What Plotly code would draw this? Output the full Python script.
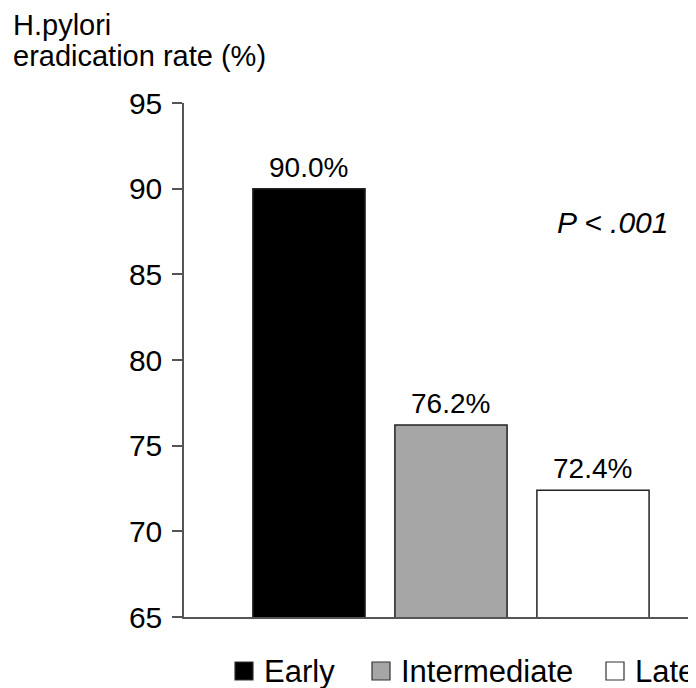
import plotly.graph_objects as go

categories = ["Early", "Intermediate", "Late"]
rates = [90.0, 76.2, 72.4]
bar_colors = ["#000000", "#a6a6a6", "#ffffff"]
y_ticks = [65, 70, 75, 80, 85, 90, 95]
y_title_lines = ["H.pylori", "eradication rate (%)"]
p_text = "<i>P &lt; .001</i>"

FONT = "Liberation Sans, Arial, sans-serif"
OFF = 8  # default page body margin
W, H = 696 - OFF, 688 - OFF
L, R, T, B = 184 - OFF, 8, 103 - OFF, 71
PW, PH = W - L - R, H - T - B
PLOT_L, PLOT_B = 184, 617  # plot area edges in window pixels


def px_x(p):
    return (p - PLOT_L) / PW


def px_y(p):
    return (PLOT_B - p) / PH


fig = go.Figure()
fig.add_trace(go.Bar(
    x=categories, y=rates, width=0.79,
    marker=dict(color=bar_colors, line=dict(color="#222222", width=1.5)),
    showlegend=False, hoverinfo="skip",
))

for c, v in zip(categories, rates):
    fig.add_annotation(x=c, y=v, text=f"{v:.1f}%", showarrow=False,
                       xanchor="center", yanchor="bottom", yshift=4,
                       font=dict(family=FONT, size=28, color="black"))

fig.add_annotation(xref="paper", yref="paper", x=px_x(612), y=px_y(223),
                   text=p_text, showarrow=False, xanchor="center", yanchor="middle",
                   font=dict(family=FONT, size=30, color="black"))

for line, top in zip(y_title_lines, [7, 38]):
    fig.add_annotation(xref="paper", yref="paper", x=px_x(11), y=px_y(top),
                       text=line, showarrow=False, xanchor="left", yanchor="top",
                       align="left", font=dict(family=FONT, size=29, color="black"))

# manual legend
leg_sq_cx = [244, 381, 615]
leg_txt_x = [262, 399, 633]
leg_cy = 671
for c, col, cx, tx in zip(categories, bar_colors, leg_sq_cx, leg_txt_x):
    fig.add_shape(type="rect", xref="paper", yref="paper",
                  x0=px_x(cx - 9), x1=px_x(cx + 9), y0=px_y(leg_cy + 9), y1=px_y(leg_cy - 9),
                  fillcolor=col, line=dict(color="#333333", width=1.2))
    fig.add_annotation(xref="paper", yref="paper", x=px_x(tx), y=px_y(leg_cy),
                       text=c, showarrow=False, xanchor="left", yanchor="middle",
                       font=dict(family=FONT, size=31, color="black"))

fig.update_layout(
    width=W, height=H,
    margin=dict(l=L, r=R, t=T, b=B, pad=0),
    plot_bgcolor="white", paper_bgcolor="white",
    font=dict(family=FONT, color="black"),
    xaxis=dict(range=[-0.88, 2.669], showticklabels=False, ticks="",
               showline=True, linecolor="#555555", linewidth=1.5,
               showgrid=False, zeroline=False, fixedrange=True),
    yaxis=dict(range=[65, 95], tickvals=y_ticks, ticks="outside", ticklen=10,
               tickwidth=1.5, tickcolor="#555555", showline=True,
               linecolor="#555555", linewidth=1.5, showgrid=False, zeroline=False,
               tickfont=dict(family=FONT, size=30, color="black"),
               ticklabelstandoff=4),
)

fig.write_html("out.html")
